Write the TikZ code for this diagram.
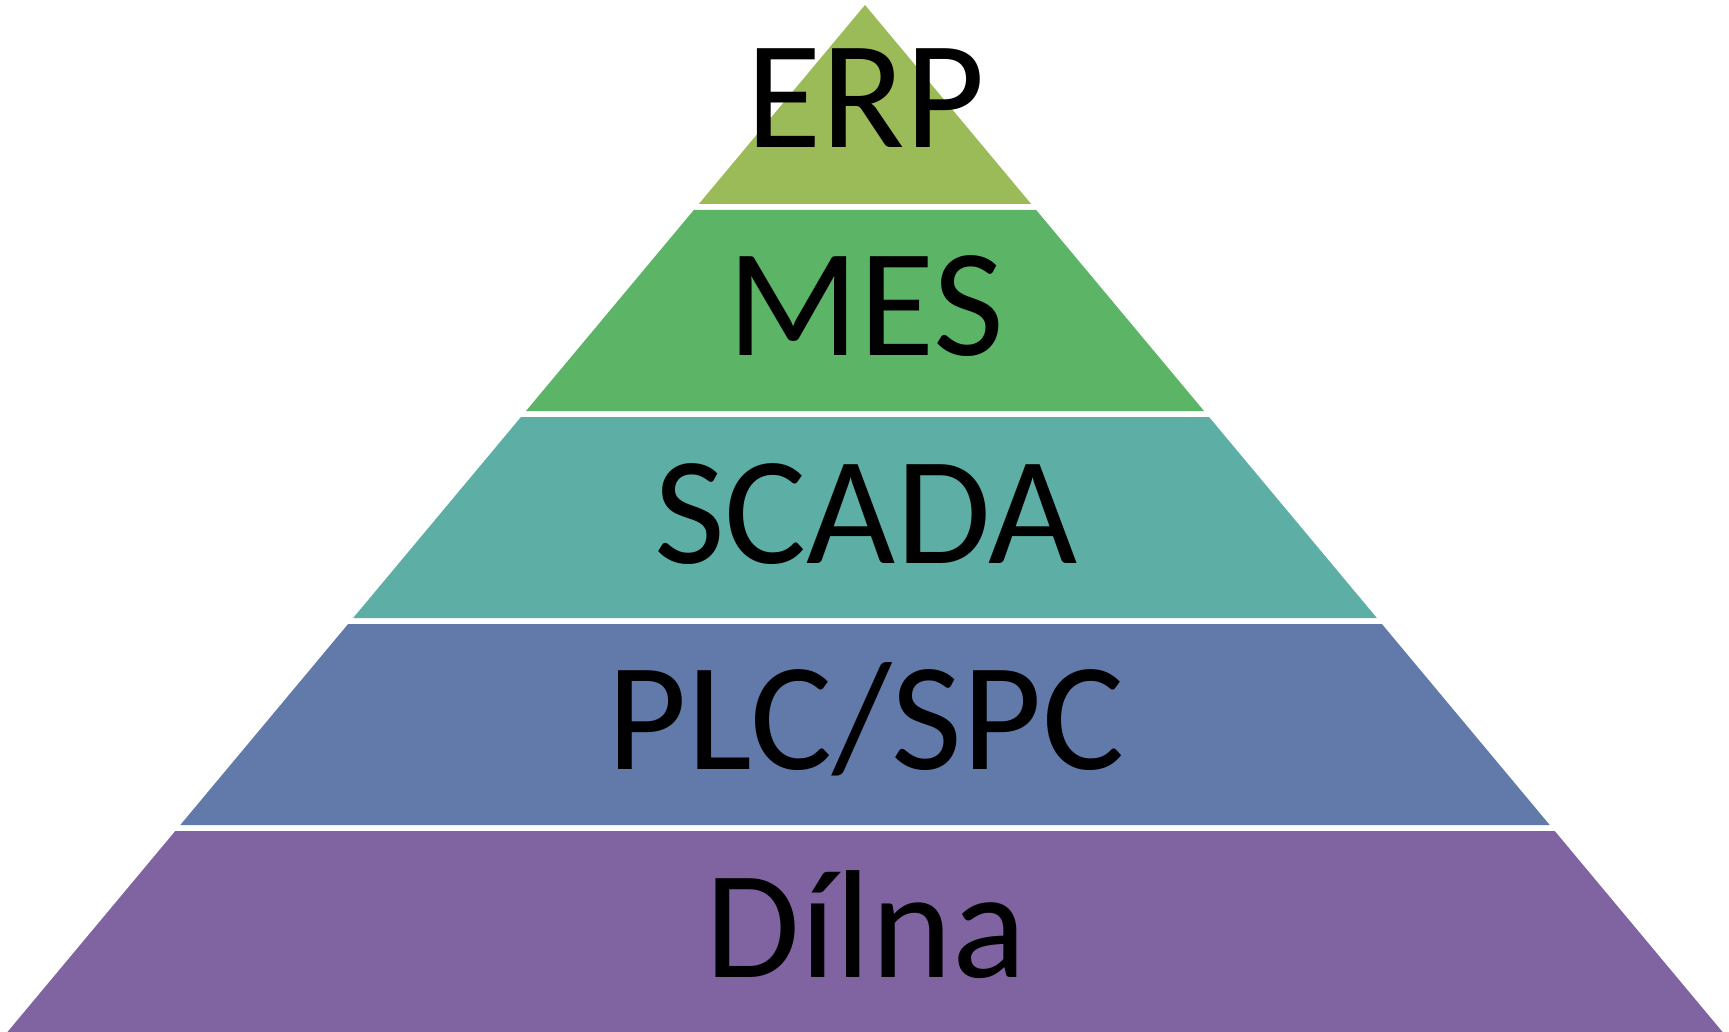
\documentclass[tikz,border=0pt]{standalone}
\usepackage{fontspec}
\setmainfont{Carlito}
\definecolor{cerp}{HTML}{9BBB59}
\definecolor{cmes}{HTML}{5CB466}
\definecolor{cscada}{HTML}{5DAFA6}
\definecolor{cplc}{HTML}{617AAA}
\definecolor{cdilna}{HTML}{8064A2}
\tikzset{
  lbl/.style={anchor=base, inner sep=0pt, font=\fontsize{77}{90}\selectfont, text=black},
}
\begin{document}
\begin{tikzpicture}[x=0.5pt,y=-0.5pt]
\useasboundingbox (0,0) rectangle (1729,1032);
% apex (865,5), slope 0.835 px per px
\fill[cerp] (865,5) -- ({865+(204-5)*0.835},204) -- ({865-(204-5)*0.835},204) -- cycle;
\foreach \t/\b/\c in {210/411/cmes, 417/618/cscada, 624/825/cplc, 831/1032/cdilna}{
  \fill[\c] ({865-(\t-5)*0.835},\t) -- ({865+(\t-5)*0.835},\t) -- ({865+(\b-5)*0.835},\b) -- ({865-(\b-5)*0.835},\b) -- cycle;
}
\node[lbl] (erp) at (866,148) {ERP};
\node[lbl] (mes) at (866,355) {MES};
\node[lbl] (scada) at (866,563) {SCADA};
\node[lbl] (plc) at (866,769) {PLC/SPC};
\node[lbl] (dilna) at (866,977) {Dílna};
\end{tikzpicture}
\end{document}
